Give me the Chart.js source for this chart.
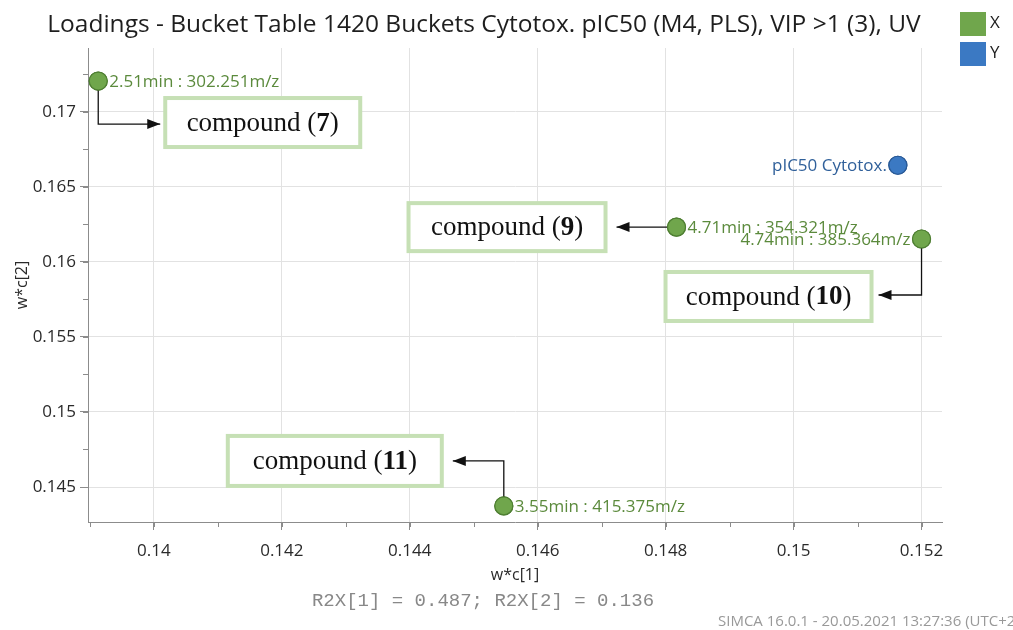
<!DOCTYPE html>
<html>
<head>
<meta charset="utf-8">
<script src="https://cdn.jsdelivr.net/npm/chart.js@4"></script>
<style>
  html, body { margin: 0; padding: 0; background: #fff; }
  #wrap { width: 1013px; height: 630px; }
</style>
</head>
<body>
<div id="wrap"><canvas id="loadingsChart" width="1013" height="630"></canvas></div>
<script>
// X variables (buckets) and Y variable
const xLabels = ['2.51min : 302.251m/z', '4.71min : 354.321m/z', '4.74min : 385.364m/z', '3.55min : 415.375m/z'];
const xWc1 = [0.13913, 0.14817, 0.15200, 0.14547];
const xWc2 = [0.17204, 0.16231, 0.16152, 0.14374];
const compoundNumbers = ['7', '9', '10', '11'];

const yLabels = ['pIC50 Cytotox.'];
const yWc1 = [0.15163];
const yWc2 = [0.16643];

const xAxisRange = [0.13897, 0.15232];
const yAxisRange = [0.14267, 0.17424];
const xMajorStep = 0.002;
const yMajorStep = 0.005;

const chartTitle = 'Loadings - Bucket Table 1420 Buckets Cytotox. pIC50 (M4, PLS), VIP >1 (3), UV';
const r2xText = 'R2X[1] = 0.487; R2X[2] = 0.136';
const footerText = 'SIMCA 16.0.1 - 20.05.2021 13:27:36 (UTC+2)';

const greenFill = '#70a64c';
const greenBorder = '#4f7f33';
const greenText = '#5b8a3c';
const blueFill = '#3b79c3';
const blueBorder = '#2a5a96';
const blueText = '#30609a';
const boxGreen = '#c6e0b5';

// callout boxes, placed relative to their point (pixels)
const callouts = [
    { dx: 67, dy: 17, w: 195, h: 49, arrow: [[0, 9], [0, 43], [62, 43]] },
    { dx: -268, dy: -24, w: 197, h: 48, arrow: [[-9, 0], [-60, 0]] },
    { dx: -256, dy: 33, w: 206, h: 49, arrow: [[0, 9], [0, 56], [-43, 56]] },
    { dx: -276, dy: -70, w: 214, h: 50, arrow: [[0, -9], [0, -45], [-51, -45]] }
];
const xLabelSide = ['right', 'right', 'left', 'right'];

const fmtTick = (v) => String(parseFloat(v.toFixed(4)));

function drawArrow(ctx, pts) {
    ctx.beginPath();
    ctx.moveTo(pts[0][0], pts[0][1]);
    for (let i = 1; i < pts.length; i++) ctx.lineTo(pts[i][0], pts[i][1]);
    ctx.stroke();
    const [x1, y1] = pts[pts.length - 2];
    const [x2, y2] = pts[pts.length - 1];
    const a = Math.atan2(y2 - y1, x2 - x1);
    const len = 13, half = 5;
    ctx.beginPath();
    ctx.moveTo(x2, y2);
    ctx.lineTo(x2 - len * Math.cos(a) + half * Math.sin(a), y2 - len * Math.sin(a) - half * Math.cos(a));
    ctx.lineTo(x2 - len * Math.cos(a) - half * Math.sin(a), y2 - len * Math.sin(a) + half * Math.cos(a));
    ctx.closePath();
    ctx.fill();
}

const loadingsPlugin = {
    id: 'loadingsExtras',
    afterDatasetsDraw(chart) {
        const ctx = chart.ctx;
        const ptsX = chart.getDatasetMeta(0).data;
        const ptsY = chart.getDatasetMeta(1).data;
        ctx.save();

        // callouts
        ptsX.forEach((p, i) => {
            const c = callouts[i];
            ctx.strokeStyle = '#111';
            ctx.fillStyle = '#111';
            ctx.lineWidth = 1.3;
            drawArrow(ctx, c.arrow.map(([ax, ay]) => [p.x + ax, p.y + ay]));

            const bx = p.x + c.dx, by = p.y + c.dy;
            ctx.fillStyle = '#fff';
            ctx.fillRect(bx, by, c.w, c.h);
            ctx.strokeStyle = boxGreen;
            ctx.lineWidth = 4;
            ctx.strokeRect(bx, by, c.w, c.h);

            const normal = '27px "Liberation Serif"';
            const bold = 'bold 27px "Liberation Serif"';
            const parts = [['compound (', normal], [compoundNumbers[i], bold], [')', normal]];
            let total = 0;
            parts.forEach(([t, f]) => { ctx.font = f; total += ctx.measureText(t).width; });
            let tx = bx + c.w / 2 - total / 2;
            ctx.fillStyle = '#111';
            ctx.textBaseline = 'middle';
            ctx.textAlign = 'left';
            parts.forEach(([t, f]) => {
                ctx.font = f;
                ctx.fillText(t, tx, by + c.h / 2 + 1);
                tx += ctx.measureText(t).width;
            });
        });

        // point labels
        ctx.font = '17px "Open Sans"';
        ctx.textBaseline = 'middle';
        ptsX.forEach((p, i) => {
            ctx.fillStyle = greenText;
            if (xLabelSide[i] === 'left') {
                ctx.textAlign = 'right';
                ctx.fillText(xLabels[i], p.x - 11, p.y + 1);
            } else {
                ctx.textAlign = 'left';
                ctx.fillText(xLabels[i], p.x + 11, p.y + 1);
            }
        });
        ptsY.forEach((p, i) => {
            ctx.fillStyle = blueText;
            ctx.textAlign = 'right';
            ctx.fillText(yLabels[i], p.x - 11, p.y + 1);
        });

        // redraw points above the callout lines
        ptsX.forEach(p => p.draw(ctx, chart.chartArea));
        ptsY.forEach(p => p.draw(ctx, chart.chartArea));
        ctx.restore();
    },
    afterDraw(chart) {
        const ctx = chart.ctx;
        const xs = chart.scales.x, ys = chart.scales.y;
        ctx.save();

        // minor ticks
        ctx.strokeStyle = '#8c8c8c';
        ctx.lineWidth = 1;
        for (let v = Math.ceil(xAxisRange[0] / (xMajorStep / 2)) * (xMajorStep / 2); v <= xAxisRange[1]; v += xMajorStep / 2) {
            const px = Math.round(xs.getPixelForValue(v)) + 0.5;
            ctx.beginPath();
            ctx.moveTo(px, ys.bottom);
            ctx.lineTo(px, ys.bottom + 5);
            ctx.stroke();
        }
        for (let v = Math.ceil(yAxisRange[0] / (yMajorStep / 2)) * (yMajorStep / 2); v <= yAxisRange[1]; v += yMajorStep / 2) {
            const py = Math.round(ys.getPixelForValue(v)) + 0.5;
            ctx.beginPath();
            ctx.moveTo(xs.left - 5, py);
            ctx.lineTo(xs.left, py);
            ctx.stroke();
        }

        // title
        ctx.fillStyle = '#1e1e1e';
        ctx.font = '24.5px "Open Sans"';
        ctx.textAlign = 'center';
        ctx.textBaseline = 'middle';
        ctx.fillText(chartTitle, 484, 25);

        // legend
        const sets = chart.data.datasets;
        sets.forEach((ds, i) => {
            const top = 12 + i * 30;
            ctx.fillStyle = ds.backgroundColor;
            ctx.fillRect(960, top, 26, 24);
            ctx.fillStyle = '#1e1e1e';
            ctx.font = '17px "Open Sans"';
            ctx.textAlign = 'left';
            ctx.fillText(ds.label, 990, top + 11);
        });

        // R2X and footer
        ctx.fillStyle = '#888';
        ctx.font = '19px "Liberation Mono"';
        ctx.textAlign = 'center';
        ctx.fillText(r2xText, 483, 601);
        ctx.fillStyle = '#999';
        ctx.font = '15px "Open Sans"';
        ctx.textAlign = 'left';
        ctx.fillText(footerText, 718, 622);
        ctx.restore();
    }
};

const ctxLoadings = document.getElementById('loadingsChart').getContext('2d');
new Chart(ctxLoadings, {
    type: 'scatter',
    data: {
        datasets: [{
            label: 'X',
            data: xWc1.map((v, i) => ({ x: v, y: xWc2[i] })),
            backgroundColor: greenFill,
            borderColor: greenBorder,
            borderWidth: 1.2,
            pointRadius: 9,
            pointHoverRadius: 9
        }, {
            label: 'Y',
            data: yWc1.map((v, i) => ({ x: v, y: yWc2[i] })),
            backgroundColor: blueFill,
            borderColor: blueBorder,
            borderWidth: 1.2,
            pointRadius: 9,
            pointHoverRadius: 9
        }]
    },
    options: {
        responsive: false,
        animation: false,
        layout: { padding: { top: 48, right: 71, left: 0, bottom: 0 } },
        scales: {
            x: {
                type: 'linear',
                min: xAxisRange[0],
                max: xAxisRange[1],
                afterFit: (scale) => { scale.height = 108; },
                ticks: {
                    stepSize: xMajorStep,
                    includeBounds: false,
                    callback: (v) => fmtTick(v),
                    color: '#2a2a2a',
                    font: { family: 'Open Sans', size: 17 },
                    padding: 11
                },
                grid: { color: '#e2e2e2', tickColor: '#8c8c8c', tickLength: 8 },
                border: { color: '#8c8c8c' },
                title: {
                    display: true,
                    text: 'w*c[1]',
                    color: '#2a2a2a',
                    font: { family: 'Open Sans', size: 16 },
                    padding: { top: 0, bottom: 45 }
                }
            },
            y: {
                type: 'linear',
                min: yAxisRange[0],
                max: yAxisRange[1],
                afterFit: (scale) => { scale.width = 88; },
                ticks: {
                    stepSize: yMajorStep,
                    includeBounds: false,
                    callback: (v) => fmtTick(v),
                    color: '#2a2a2a',
                    font: { family: 'Open Sans', size: 17 },
                    padding: 4
                },
                grid: { color: '#e2e2e2', tickColor: '#8c8c8c', tickLength: 8 },
                border: { color: '#8c8c8c' },
                title: {
                    display: true,
                    text: 'w*c[2]',
                    color: '#2a2a2a',
                    font: { family: 'Open Sans', size: 16 },
                    padding: { top: 13, bottom: 0 }
                }
            }
        },
        plugins: {
            legend: { display: false },
            title: { display: false },
            tooltip: { enabled: false }
        }
    },
    plugins: [loadingsPlugin]
});
</script>
</body>
</html>
